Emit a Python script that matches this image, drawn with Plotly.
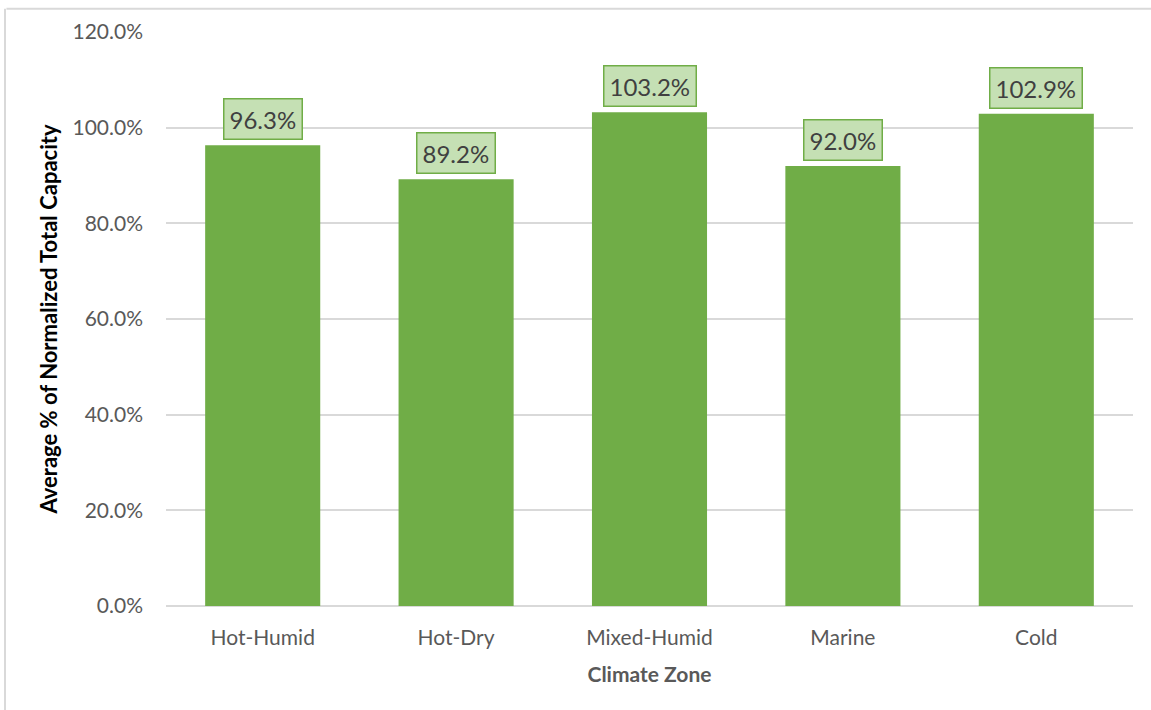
import plotly.graph_objects as go

# Average normalized capacity by climate zone
zones = ["Hot-Humid", "Hot-Dry", "Mixed-Humid", "Marine", "Cold"]
capacity = [0.963, 0.892, 1.032, 0.920, 1.029]
y_ticks = [0.0, 0.2, 0.4, 0.6, 0.8, 1.0, 1.2]

BAR = "#70AD47"
LABEL_FILL = "#C5E0B4"
TEXT = "#595959"
FONT = "Lato, 'Open Sans', sans-serif"

fig = go.Figure(
    go.Bar(
        x=zones,
        y=capacity,
        marker=dict(color=BAR, line=dict(width=0)),
        hoverinfo="skip",
    )
)

# Boxed value labels above each bar
for z, v in zip(zones, capacity):
    fig.add_annotation(
        x=z, y=v, xref="x", yref="y",
        text=f"{v * 100:.1f}%",
        showarrow=False,
        yanchor="bottom",
        yshift=5,
        font=dict(family=FONT, size=24, color="#404040"),
        bgcolor=LABEL_FILL,
        bordercolor=BAR,
        borderwidth=1.5,
        borderpad=5,
    )

# Chart frame: top and left edges
fig.add_shape(type="line", xref="paper", yref="paper",
              x0=-0.165, x1=1.05, y0=1.0405, y1=1.0405,
              line=dict(color="#D9D9D9", width=2))
fig.add_shape(type="line", xref="paper", yref="paper",
              x0=-0.1665, x1=-0.1665, y0=-0.2, y1=1.0405,
              line=dict(color="#D9D9D9", width=2))

fig.update_layout(
    width=1151, height=710,
    margin=dict(l=166, r=18, t=32, b=104),
    paper_bgcolor="white",
    plot_bgcolor="white",
    bargap=0.405,
    showlegend=False,
    font=dict(family=FONT, color=TEXT),
    xaxis=dict(
        title=dict(text="<b>Climate Zone</b>", font=dict(size=21, color=TEXT), standoff=19),
        tickfont=dict(size=21, color=TEXT),
        ticklabelstandoff=17,
        showline=False, showgrid=False, ticks="",
    ),
    yaxis=dict(
        range=[0, 1.2],
        tickvals=y_ticks,
        ticktext=[f"{t * 100:.1f}%" for t in y_ticks],
        tickfont=dict(size=21, color=TEXT),
        ticklabelstandoff=22,
        gridcolor="#D9D9D9", gridwidth=1.5,
        zeroline=True, zerolinecolor="#D9D9D9", zerolinewidth=1.5,
        ticks="", ticklen=0,
        title=dict(text="<b>Average % of Normalized Total Capacity</b>",
                   font=dict(size=22, color="#000000"), standoff=8),
    ),
)

fig.write_html("out.html")
